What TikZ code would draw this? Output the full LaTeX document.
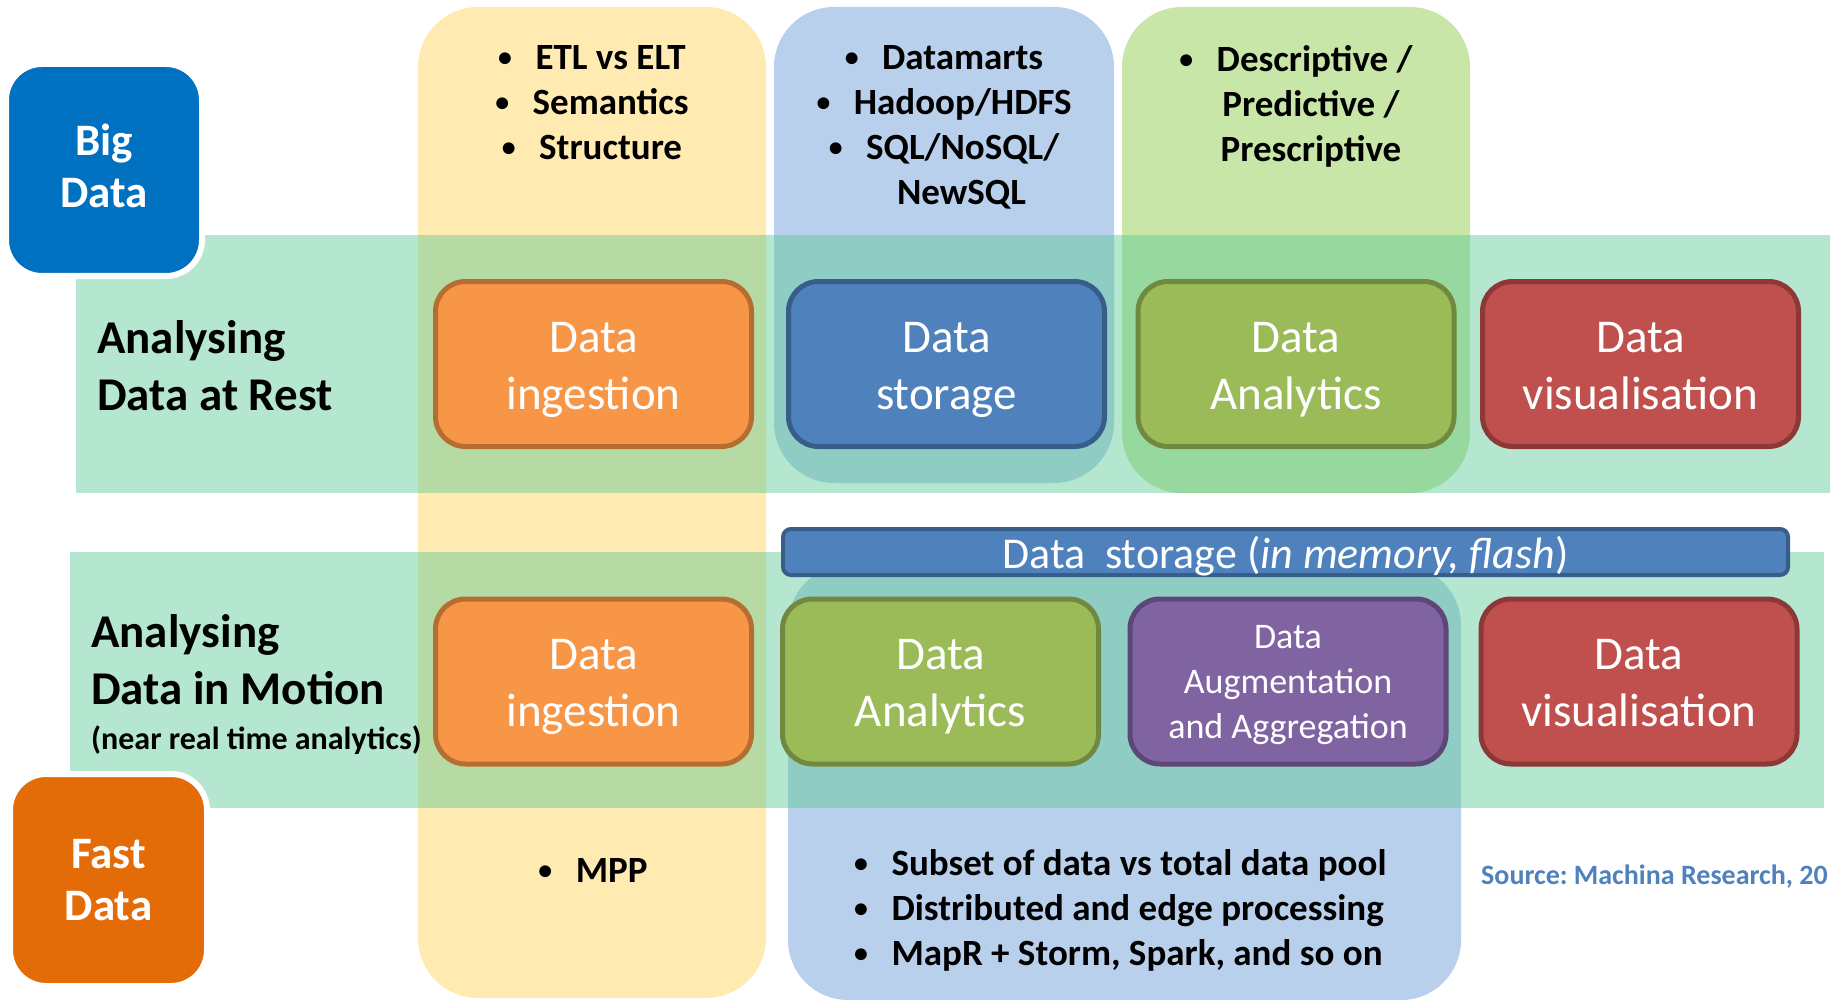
\documentclass[tikz,border=0pt]{standalone}
\usepackage{fontspec}
\usepackage{graphicx}
\setmainfont{Carlito}
\frenchspacing
\definecolor{bigblue}{HTML}{0070C0}
\definecolor{fastorange}{HTML}{E36C09}
\definecolor{bandgreen}{RGB}{91,200,149}
\definecolor{colyellow}{HTML}{FFEAB2}
\definecolor{colblue}{HTML}{B9D0EC}
\definecolor{colgreen}{HTML}{C8E6A7}
\definecolor{ingfill}{HTML}{F79646}\definecolor{ingline}{HTML}{B66D31}
\definecolor{stofill}{HTML}{4F81BD}\definecolor{stoline}{HTML}{385D8A}
\definecolor{anafill}{HTML}{9BBB59}\definecolor{analine}{HTML}{71893F}
\definecolor{visfill}{HTML}{C0504D}\definecolor{visline}{HTML}{8C3836}
\definecolor{augfill}{HTML}{8064A2}\definecolor{augline}{HTML}{5C4776}
\definecolor{srcblue}{HTML}{4F81BD}
\tikzset{
  colbox/.style={rounded corners=60pt},
  bandbox/.style={fill=bandgreen, fill opacity=0.45},
  stage/.style={draw, line width=5pt, rounded corners=30pt, text=white, align=center,
    font=\fontsize{47}{57}\selectfont, inner sep=0pt, minimum width=316pt, minimum height=165pt},
  augstage/.style={stage, font=\fontsize{36}{45}\selectfont},
  tagbox/.style={draw=white, line width=6pt, rounded corners=36pt, text=white, align=center,
    font=\bfseries\fontsize{45}{52}\selectfont, inner sep=0pt},
  rowlabel/.style={align=left, inner sep=0pt, font=\bfseries\fontsize{47}{57}\selectfont},
  bullets/.style={align=center, inner sep=0pt, font=\bfseries\fontsize{37}{45}\selectfont},
}
\newcommand{\bul}{\raisebox{2.5pt}{\scalebox{0.75}{\textbullet}}\hspace{23.5pt}}
\newcommand{\twol}[2]{\rule{0pt}{42pt}#1\\#2\vphantom{g}}
\begin{document}
\begin{tikzpicture}[x=1pt,y=-1pt]
\useasboundingbox (0,0) rectangle (1830,1000);
% columns
\fill[colyellow, colbox] (418,7) rectangle (766,998);
\fill[colblue, colbox] (774,7) rectangle (1114,483);
\fill[colgreen, colbox] (1122,7) rectangle (1470,493);
\fill[colblue, colbox] (788,565) rectangle (1461,1000);
% bands
\fill[bandbox] (76,235) rectangle (1830,493);
\fill[bandbox] (70,552) rectangle (1824,808);
% tags
\node[tagbox, fill=bigblue, minimum width=196pt, minimum height=212pt] (big) at (104,170) {Big\\Data\vphantom{g}};
\node[tagbox, fill=fastorange, minimum width=197pt, minimum height=212pt] (fast) at (108.5,880) {Fast\\Data};
% row labels
\node[rowlabel, anchor=west] (rest) at (97,366) {Analysing\\Data at Rest};
\node[rowlabel, anchor=west] (motion) at (91,660) {Analysing\\Data in Motion};
\node[anchor=west, inner sep=0pt, font=\bfseries\fontsize{32}{38}\selectfont] (motionsub) at (91,740) {(near real time analytics)};
% row 1
\node[stage, fill=ingfill, draw=ingline] (ing1) at (593.5,364) {\twol{Data}{ingestion}};
\node[stage, fill=stofill, draw=stoline] (sto1) at (946.5,364) {\twol{Data}{storage}};
\node[stage, fill=anafill, draw=analine] (ana1) at (1296,364) {\twol{Data}{Analytics}};
\node[stage, fill=visfill, draw=visline] (vis1) at (1640.5,364) {\twol{Data}{visualisation}};
% row 2
\node[draw=stoline, fill=stofill, line width=4pt, rounded corners=8pt, minimum width=1005pt, minimum height=46pt,
  inner sep=0pt, text height=39pt, text depth=7pt, text=white, font=\fontsize{44}{52}\selectfont] (mem) at (1285.5,552) {Data\ \ storage (\textit{in memory, flash})};
\node[stage, fill=ingfill, draw=ingline] (ing2) at (593.5,681.5) {\twol{Data}{ingestion}};
\node[stage, fill=anafill, draw=analine] (ana2) at (940.5,681.5) {\twol{Data}{Analytics}};
\node[augstage, fill=augfill, draw=augline] (aug2) at (1288,681.5) {\rule{0pt}{31pt}Data\\Augmentation\\and Aggregation};
\node[stage, fill=visfill, draw=visline] (vis2) at (1639,681.5) {\twol{Data}{visualisation}};
% bullet lists
\node[bullets, anchor=north] (l1) at (592,45) {\bul ETL vs ELT\\\bul Semantics\\\bul Structure};
\node[bullets, anchor=north] (l2) at (944,45) {\bul Datamarts\\\bul Hadoop/HDFS\\\bul SQL/NoSQL/\\\hspace*{35pt}NewSQL};
\node[bullets, anchor=north] (l3) at (1296,45) {\bul Descriptive /\\\hspace*{30pt}Predictive /\\\hspace*{30pt}Prescriptive};
\node[bullets] (l4) at (593,870) {\bul MPP};
\node[bullets, align=left, anchor=north west] (l5) at (854,849) {\bul Subset of data vs total data pool\\\bul Distributed and edge processing\\\bul MapR + Storm, Spark, and so on};
\node[anchor=west, inner sep=0pt, text=srcblue, font=\bfseries\fontsize{28}{34}\selectfont] (src) at (1481,877) {Source: Machina Research, 20};
\end{tikzpicture}
\end{document}
